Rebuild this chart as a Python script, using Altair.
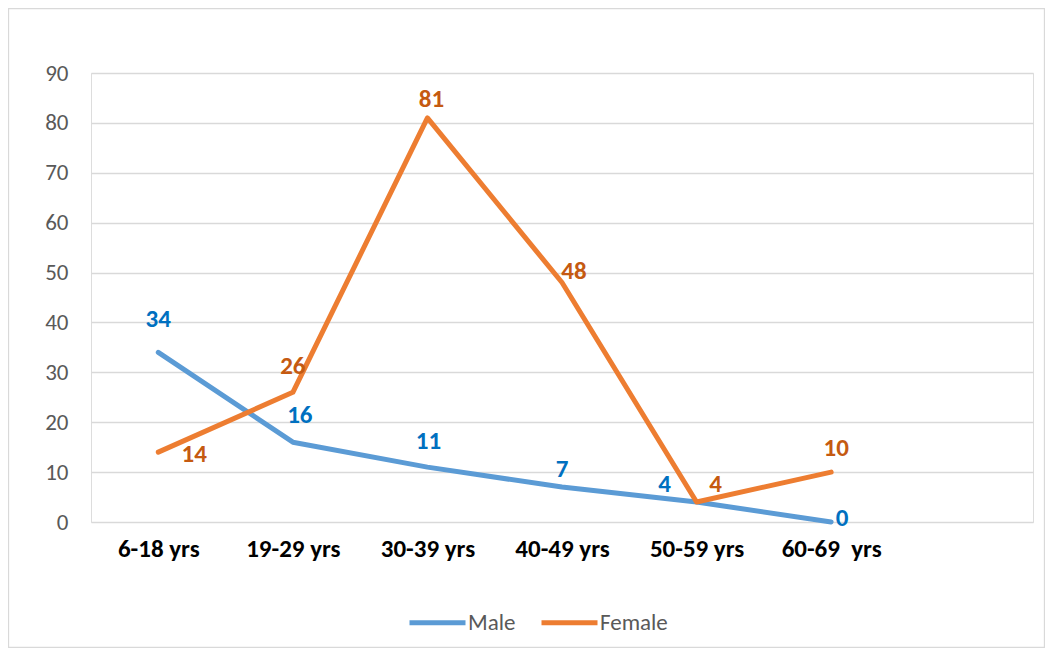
import altair as alt
import pandas as pd

categories = ["6-18 yrs", "19-29 yrs", "30-39 yrs", "40-49 yrs", "50-59 yrs", "60-69\u00a0 yrs"]
male = [34, 16, 11, 7, 4, 0]
female = [14, 26, 81, 48, 4, 10]
series_names = ["Male", "Female"]

line_colors = {"Male": "#5B9BD5", "Female": "#ED7D31"}
label_colors = {"Male": "#0070C0", "Female": "#C55A11"}
# label offsets (dx, dy) in pixels, style only
label_offsets = {
    "Male": [(0, -33), (7, -27), (1, -26), (0, -18), (-32, -18), (11, -4)],
    "Female": [(36, 2), (0, -26), (4, -19), (12, -12), (19, -18), (5, -24)],
}

FONT = "Carlito, Calibri, Open Sans"
W, H = 942, 449
PAD = {"left": 83, "top": 65, "right": 12, "bottom": 126}

rows = []
for s, vals in (("Male", male), ("Female", female)):
    for i, v in enumerate(vals):
        rows.append({"series": s, "idx": i, "cat": categories[i], "value": v})
df = pd.DataFrame(rows)

label_expr = "[" + ",".join("'" + c + "'" for c in categories) + "][datum.value]"

x_enc = alt.X(
    "idx:Q",
    scale=alt.Scale(domain=[-0.5, 6.5], nice=False, zero=False),
    axis=alt.Axis(
        values=list(range(len(categories))),
        labelExpr=label_expr,
        grid=False, domain=False, ticks=False,
        labelPadding=14, labelFontSize=25, labelFontWeight="bold",
        labelColor="#000000", labelFont=FONT, title=None,
    ),
    title=None,
)
y_enc = alt.Y(
    "value:Q",
    scale=alt.Scale(domain=[0, 90], nice=False),
    axis=alt.Axis(
        values=list(range(0, 91, 10)),
        grid=True, gridColor="#d9d9d9", gridWidth=1.3,
        domain=False, ticks=False, labelPadding=23,
        labelFontSize=23, labelColor="#595959", labelFont=FONT, title=None,
    ),
    title=None,
)

lines = alt.Chart(df).mark_line(strokeWidth=5, strokeCap="round", strokeJoin="round").encode(
    x=x_enc,
    y=y_enc,
    color=alt.Color(
        "series:N",
        scale=alt.Scale(domain=series_names, range=[line_colors[s] for s in series_names]),
        sort=series_names,
        legend=alt.Legend(
            orient="none", legendX=316, legendY=519, direction="horizontal",
            title=None, symbolType="stroke", symbolSize=3136, symbolStrokeWidth=5,
            labelFontSize=23, labelColor="#595959", labelFont=FONT,
            labelOffset=0, columnPadding=15,
        ),
    ),
    order=alt.Order("idx:Q"),
)

text_layers = []
for s, vals in (("Male", male), ("Female", female)):
    for i, v in enumerate(vals):
        dx, dy = label_offsets[s][i]
        t = alt.Chart(df).transform_filter(
            (alt.datum.series == s) & (alt.datum.idx == i)
        ).mark_text(
            dx=dx, dy=dy, fontSize=25, fontWeight="bold", font=FONT,
            color=label_colors[s], align="center", baseline="middle",
        ).encode(
            x=alt.X("idx:Q"), y=alt.Y("value:Q"), text=alt.Text("value:Q")
        )
        text_layers.append(t)

border = alt.Chart(alt.Data(values=[{"a": 1}])).mark_rect(
    fill="transparent", stroke="#d9d9d9", strokeWidth=1.3
).encode(
    x=alt.value(-PAD["left"] + 0.5),
    x2=alt.value(W + PAD["right"] - 0.5),
    y=alt.value(-PAD["top"] + 0.5),
    y2=alt.value(H + PAD["bottom"] - 0.5),
)

chart = alt.layer(border, lines, *text_layers).properties(
    width=W, height=H,
    autosize=alt.AutoSizeParams(type="none"),
    padding=PAD,
).configure_view(stroke=None).configure(background="white")

chart.save("out.html", embed_options={"renderer": "svg", "actions": False})
